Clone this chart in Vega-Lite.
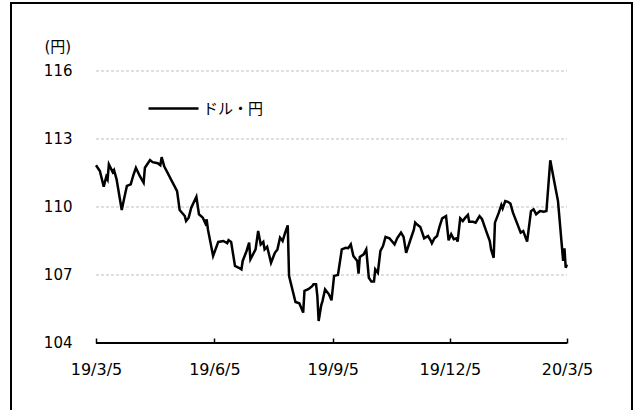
{
  "$schema": "https://vega.github.io/schema/vega-lite/v6.json",
  "width": 621,
  "height": 407,
  "autosize": {"type": "none"},
  "padding": {"left": 11, "top": 3, "right": 4, "bottom": 0},
  "background": "white",
  "config": {
    "view": {"stroke": "black", "strokeWidth": 2, "strokeDash": [1028, 621, 407]},
    "font": "DejaVu Sans"
  },
  "datasets": {
    "fx": [
      {"date": "2019-03-05", "value": 111.84},
      {"date": "2019-03-08", "value": 111.59},
      {"date": "2019-03-11", "value": 110.90},
      {"date": "2019-03-13", "value": 111.34},
      {"date": "2019-03-14", "value": 111.22},
      {"date": "2019-03-15", "value": 111.88},
      {"date": "2019-03-18", "value": 111.54},
      {"date": "2019-03-19", "value": 111.63},
      {"date": "2019-03-21", "value": 111.22},
      {"date": "2019-03-25", "value": 109.87},
      {"date": "2019-03-27", "value": 110.41},
      {"date": "2019-03-29", "value": 110.93},
      {"date": "2019-04-01", "value": 111.00},
      {"date": "2019-04-03", "value": 111.40},
      {"date": "2019-04-05", "value": 111.73},
      {"date": "2019-04-08", "value": 111.37},
      {"date": "2019-04-11", "value": 111.07},
      {"date": "2019-04-12", "value": 111.73},
      {"date": "2019-04-16", "value": 112.07},
      {"date": "2019-04-18", "value": 111.98},
      {"date": "2019-04-22", "value": 111.93},
      {"date": "2019-04-24", "value": 111.84},
      {"date": "2019-04-25", "value": 112.20},
      {"date": "2019-04-27", "value": 111.80},
      {"date": "2019-05-07", "value": 110.70},
      {"date": "2019-05-09", "value": 109.87},
      {"date": "2019-05-13", "value": 109.60},
      {"date": "2019-05-14", "value": 109.38},
      {"date": "2019-05-16", "value": 109.53},
      {"date": "2019-05-18", "value": 109.97},
      {"date": "2019-05-22", "value": 110.45},
      {"date": "2019-05-24", "value": 109.68},
      {"date": "2019-05-27", "value": 109.53},
      {"date": "2019-05-29", "value": 109.28},
      {"date": "2019-05-30", "value": 109.45},
      {"date": "2019-05-31", "value": 109.00},
      {"date": "2019-06-04", "value": 107.84},
      {"date": "2019-06-08", "value": 108.46},
      {"date": "2019-06-12", "value": 108.50},
      {"date": "2019-06-15", "value": 108.40},
      {"date": "2019-06-16", "value": 108.54},
      {"date": "2019-06-18", "value": 108.46},
      {"date": "2019-06-21", "value": 107.40},
      {"date": "2019-06-24", "value": 107.32},
      {"date": "2019-06-26", "value": 107.25},
      {"date": "2019-06-27", "value": 107.62},
      {"date": "2019-06-30", "value": 108.06},
      {"date": "2019-07-02", "value": 108.43},
      {"date": "2019-07-03", "value": 107.69},
      {"date": "2019-07-07", "value": 108.13},
      {"date": "2019-07-09", "value": 108.94},
      {"date": "2019-07-11", "value": 108.35},
      {"date": "2019-07-13", "value": 108.46},
      {"date": "2019-07-14", "value": 108.13},
      {"date": "2019-07-16", "value": 108.25},
      {"date": "2019-07-19", "value": 107.54},
      {"date": "2019-07-22", "value": 107.98},
      {"date": "2019-07-24", "value": 108.13},
      {"date": "2019-07-26", "value": 108.65},
      {"date": "2019-07-28", "value": 108.50},
      {"date": "2019-07-30", "value": 108.87},
      {"date": "2019-08-01", "value": 109.19},
      {"date": "2019-08-02", "value": 106.96},
      {"date": "2019-08-07", "value": 105.81},
      {"date": "2019-08-10", "value": 105.75},
      {"date": "2019-08-13", "value": 105.34},
      {"date": "2019-08-14", "value": 106.30},
      {"date": "2019-08-17", "value": 106.37},
      {"date": "2019-08-20", "value": 106.51},
      {"date": "2019-08-21", "value": 106.59},
      {"date": "2019-08-23", "value": 106.59},
      {"date": "2019-08-24", "value": 106.07},
      {"date": "2019-08-25", "value": 104.97},
      {"date": "2019-08-27", "value": 105.66},
      {"date": "2019-08-28", "value": 105.85},
      {"date": "2019-08-30", "value": 106.37},
      {"date": "2019-09-02", "value": 106.15},
      {"date": "2019-09-04", "value": 105.88},
      {"date": "2019-09-06", "value": 106.96},
      {"date": "2019-09-09", "value": 107.00},
      {"date": "2019-09-12", "value": 108.13},
      {"date": "2019-09-15", "value": 108.20},
      {"date": "2019-09-17", "value": 108.18},
      {"date": "2019-09-19", "value": 108.35},
      {"date": "2019-09-21", "value": 107.84},
      {"date": "2019-09-24", "value": 107.62},
      {"date": "2019-09-25", "value": 107.06},
      {"date": "2019-09-26", "value": 107.80},
      {"date": "2019-09-29", "value": 107.91},
      {"date": "2019-10-01", "value": 108.13},
      {"date": "2019-10-03", "value": 106.88},
      {"date": "2019-10-05", "value": 106.71},
      {"date": "2019-10-07", "value": 106.71},
      {"date": "2019-10-08", "value": 107.25},
      {"date": "2019-10-10", "value": 107.10},
      {"date": "2019-10-12", "value": 108.06},
      {"date": "2019-10-14", "value": 108.28},
      {"date": "2019-10-16", "value": 108.68},
      {"date": "2019-10-19", "value": 108.62},
      {"date": "2019-10-23", "value": 108.35},
      {"date": "2019-10-25", "value": 108.62},
      {"date": "2019-10-28", "value": 108.87},
      {"date": "2019-10-30", "value": 108.68},
      {"date": "2019-11-01", "value": 107.98},
      {"date": "2019-11-04", "value": 108.50},
      {"date": "2019-11-07", "value": 109.00},
      {"date": "2019-11-08", "value": 109.31},
      {"date": "2019-11-10", "value": 109.20},
      {"date": "2019-11-12", "value": 109.12},
      {"date": "2019-11-15", "value": 108.62},
      {"date": "2019-11-18", "value": 108.72},
      {"date": "2019-11-20", "value": 108.53},
      {"date": "2019-11-21", "value": 108.40},
      {"date": "2019-11-23", "value": 108.62},
      {"date": "2019-11-25", "value": 108.72},
      {"date": "2019-11-27", "value": 109.15},
      {"date": "2019-11-29", "value": 109.50},
      {"date": "2019-12-02", "value": 109.60},
      {"date": "2019-12-04", "value": 108.53},
      {"date": "2019-12-06", "value": 108.80},
      {"date": "2019-12-08", "value": 108.58},
      {"date": "2019-12-10", "value": 108.62},
      {"date": "2019-12-11", "value": 108.47},
      {"date": "2019-12-13", "value": 109.50},
      {"date": "2019-12-15", "value": 109.38},
      {"date": "2019-12-17", "value": 109.53},
      {"date": "2019-12-19", "value": 109.65},
      {"date": "2019-12-20", "value": 109.35},
      {"date": "2019-12-23", "value": 109.35},
      {"date": "2019-12-25", "value": 109.31},
      {"date": "2019-12-28", "value": 109.60},
      {"date": "2019-12-30", "value": 109.46},
      {"date": "2020-01-02", "value": 108.97},
      {"date": "2020-01-05", "value": 108.50},
      {"date": "2020-01-06", "value": 108.13},
      {"date": "2020-01-08", "value": 107.76},
      {"date": "2020-01-09", "value": 109.31},
      {"date": "2020-01-12", "value": 109.75},
      {"date": "2020-01-14", "value": 110.09},
      {"date": "2020-01-15", "value": 109.94},
      {"date": "2020-01-17", "value": 110.26},
      {"date": "2020-01-19", "value": 110.23},
      {"date": "2020-01-21", "value": 110.15},
      {"date": "2020-01-23", "value": 109.75},
      {"date": "2020-01-26", "value": 109.31},
      {"date": "2020-01-29", "value": 108.87},
      {"date": "2020-01-31", "value": 108.94},
      {"date": "2020-02-03", "value": 108.47},
      {"date": "2020-02-06", "value": 109.82},
      {"date": "2020-02-08", "value": 109.90},
      {"date": "2020-02-10", "value": 109.68},
      {"date": "2020-02-13", "value": 109.82},
      {"date": "2020-02-16", "value": 109.79},
      {"date": "2020-02-18", "value": 109.82},
      {"date": "2020-02-21", "value": 112.06},
      {"date": "2020-02-24", "value": 111.15},
      {"date": "2020-02-27", "value": 110.26},
      {"date": "2020-03-02", "value": 107.62},
      {"date": "2020-03-03", "value": 108.18},
      {"date": "2020-03-04", "value": 107.32},
      {"date": "2020-03-05", "value": 107.47}
    ],
    "grid": [{"v": 107}, {"v": 110}, {"v": 113}, {"v": 116}],
    "base": [{"v": 104}]
  },
  "layer": [
    {
      "data": {"name": "grid"},
      "mark": {"type": "rule", "color": "#c0c0c0", "strokeWidth": 1, "strokeDash": [3, 2]},
      "encoding": {
        "y": {
          "field": "v", "type": "quantitative",
          "scale": {"domain": [101.044, 119.0], "nice": false, "zero": false},
          "axis": {
            "orient": "left", "offset": -85, "values": [104, 107, 110, 113, 116],
            "domain": false, "ticks": false, "grid": false,
            "labelPadding": 24, "labelFont": "DejaVu Sans", "labelFontSize": 15, "labelColor": "black",
            "title": "(円)", "titleAngle": 0, "titleX": -52, "titleY": 48, "titleAlign": "left", "titleBaseline": "alphabetic",
            "titleFont": "DejaVu Sans, Noto Sans CJK JP", "titleFontSize": 15, "titleFontWeight": "normal", "titleColor": "black"
          }
        },
        "x": {
          "datum": {"year": 2019, "month": 3, "date": 5, "utc": true}, "type": "temporal",
          "scale": {"type": "utc", "domain": [{"year": 2018, "month": 12, "date": 28, "hours": 22, "minutes": 48, "utc": true}, {"year": 2020, "month": 4, "date": 24, "hours": 12, "utc": true}]},
          "axis": {
            "orient": "bottom", "offset": -67, "title": null, "grid": false, "domain": false,
            "values": [
              {"year": 2019, "month": 3, "date": 5, "utc": true},
              {"year": 2019, "month": 6, "date": 5, "utc": true},
              {"year": 2019, "month": 9, "date": 5, "utc": true},
              {"year": 2019, "month": 12, "date": 5, "utc": true},
              {"year": 2020, "month": 3, "date": 5, "utc": true}
            ],
            "labelExpr": "utcFormat(datum.value, '%y/%-m/%-d')",
            "ticks": true, "tickSize": -5, "tickColor": "black", "tickWidth": 1.5,
            "labelPadding": 23, "labelFont": "DejaVu Sans", "labelFontSize": 16, "labelColor": "black",
            "labelFlush": false, "labelOverlap": false
          }
        },
        "x2": {"datum": {"year": 2020, "month": 3, "date": 5, "utc": true}}
      }
    },
    {
      "data": {"name": "base"},
      "mark": {"type": "rule", "color": "black", "strokeWidth": 2},
      "encoding": {
        "y": {"field": "v", "type": "quantitative"},
        "x": {"datum": {"year": 2019, "month": 3, "date": 5, "utc": true}, "type": "temporal"},
        "x2": {"datum": {"year": 2020, "month": 3, "date": 5, "utc": true}}
      }
    },
    {
      "data": {"name": "fx"},
      "mark": {"type": "line", "color": "black", "strokeWidth": 2.5},
      "encoding": {
        "x": {"field": "date", "type": "temporal"},
        "y": {"field": "value", "type": "quantitative"},
        "color": {
          "datum": "ドル・円", "type": "nominal",
          "scale": {"range": ["black"]},
          "legend": {
            "orient": "none", "legendX": 136, "legendY": 79, "title": null, "padding": 0,
            "symbolType": "stroke", "symbolSize": 2500, "symbolStrokeWidth": 2.5,
            "labelFont": "Noto Sans CJK JP", "labelFontSize": 15, "labelOffset": 3, "labelColor": "black"
          }
        }
      }
    }
  ]
}
